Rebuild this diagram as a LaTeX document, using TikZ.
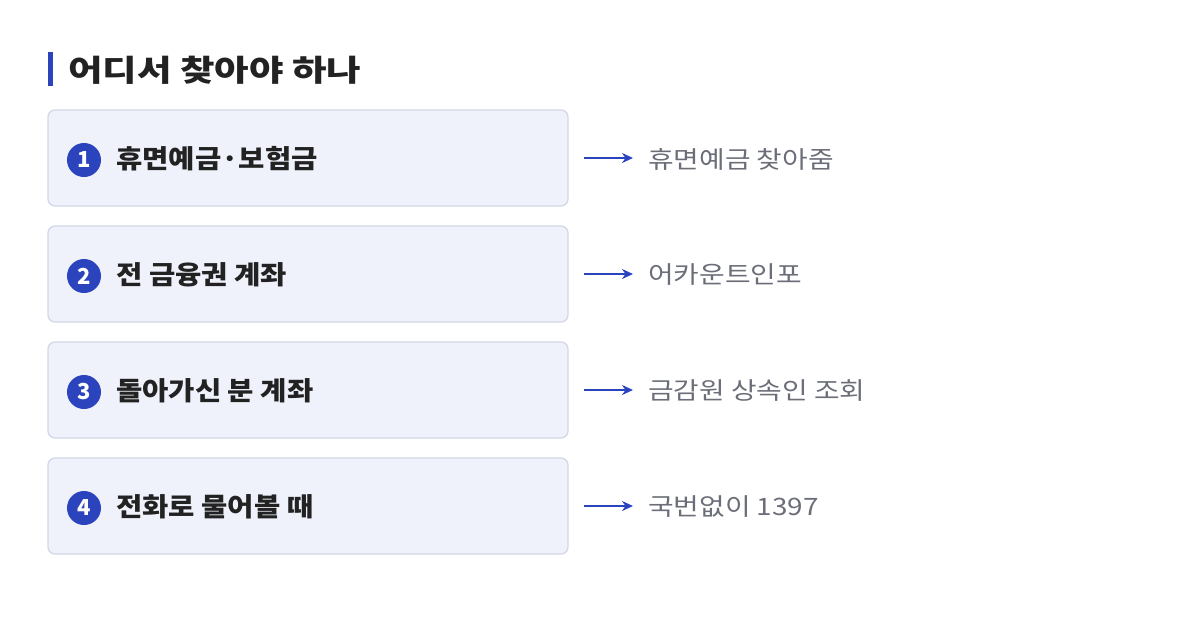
\documentclass[tikz,border=0pt]{standalone}
\usepackage{fontspec}
\setmainfont{Noto Sans CJK KR}
\usetikzlibrary{arrows.meta}
\definecolor{accent}{HTML}{2B44BE}
\definecolor{boxfill}{HTML}{EFF2FB}
\definecolor{boxline}{HTML}{D3D7E6}
\definecolor{ink}{HTML}{222222}
\definecolor{note}{HTML}{6B6E78}
\begin{document}
\begin{tikzpicture}[x=1pt,y=-1pt,
  box/.style={draw=boxline,fill=boxfill,line width=1.3pt,rounded corners=7pt,minimum width=520pt,minimum height=96pt,inner sep=0pt},
  num/.style={circle,fill=accent,text=white,minimum size=34pt,inner sep=0pt,font=\fontsize{22}{22}\selectfont\bfseries},
  lab/.style={anchor=west,text=ink,inner sep=0pt,font=\fontsize{26}{26}\selectfont\bfseries},
  note/.style={anchor=west,text=note,inner sep=0pt,font=\fontsize{24}{24}\selectfont},
  arr/.style={draw=accent,line width=2pt,-{Stealth[length=11pt,width=10pt]}}]
\useasboundingbox (0,0) rectangle (1200,622);
\fill[accent] (48,52) rectangle (53,86);
\node[anchor=west,text=ink,inner sep=0pt,font=\fontsize{30}{30}\selectfont\bfseries] (title) at (68,70) {\scalebox{1.25}[1]{어디서 찾아야 하나}};
\foreach \i/\y/\t/\n in {1/158/휴면예금·보험금/휴면예금 찾아줌, 2/274/전 금융권 계좌/어카운트인포, 3/390/돌아가신 분 계좌/금감원 상속인 조회, 4/506/전화로 물어볼 때/국번없이 1397}{
  \node[box] (b\i) at (308,\y) {};
  \node[num] (c\i) at (84,\y+2) {\i};
  \node[lab] (l\i) at (116,\y+1) {\scalebox{1.1}[1]{\t}};
  \coordinate (s\i) at (584,\y);
  \coordinate (e\i) at (633,\y);
  \draw[arr] (s\i) -- (e\i);
  \node[note] (n\i) at (648,\y+1) {\scalebox{1.16}[1]{\n}};
}
\end{tikzpicture}
\end{document}
